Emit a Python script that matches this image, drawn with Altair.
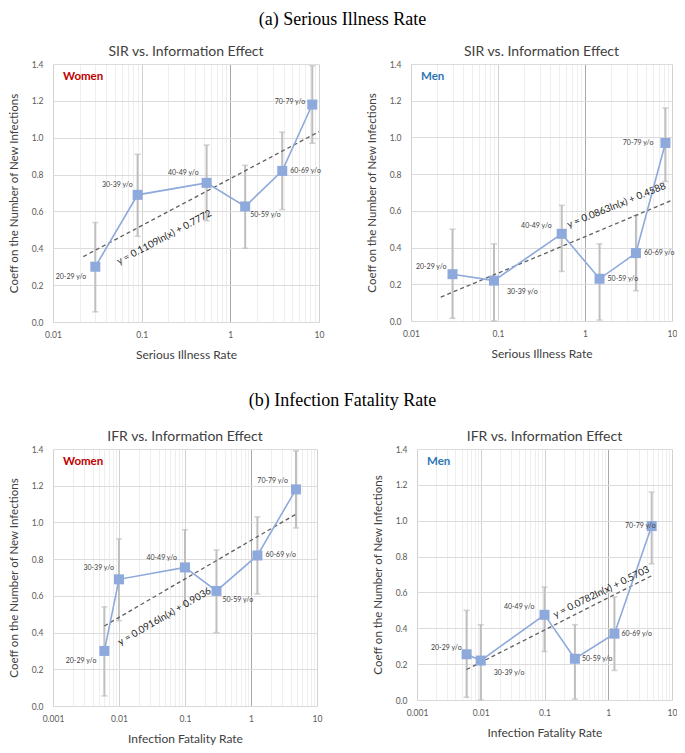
import altair as alt
import pandas as pd

# ---------------- data ----------------
ages = ["20-29 y/o", "30-39 y/o", "40-49 y/o", "50-59 y/o", "60-69 y/o", "70-79 y/o"]
sir_rate = [0.030, 0.090, 0.54, 1.47, 3.85, 8.4]
ifr_rate = [0.006, 0.010, 0.10, 0.30, 1.25, 4.8]

women_coef = [0.30, 0.69, 0.755, 0.627, 0.82, 1.18]
women_lo = [0.055, 0.465, 0.55, 0.40, 0.61, 0.97]
women_hi = [0.54, 0.91, 0.96, 0.85, 1.03, 1.39]

men_coef = [0.255, 0.22, 0.475, 0.23, 0.37, 0.97]
men_lo = [0.015, 0.0, 0.27, 0.005, 0.165, 0.76]
men_hi = [0.50, 0.42, 0.63, 0.42, 0.575, 1.16]

# trendline end points
sir_w_trend_x = [0.022, 10]
sir_w_trend_y = [0.355, 1.033]
sir_m_trend_x = [0.022, 10]
sir_m_trend_y = [0.13, 0.658]
ifr_w_trend_x = [0.006, 4.8]
ifr_w_trend_y = [0.436, 1.045]
ifr_m_trend_x = [0.006, 4.8]
ifr_m_trend_y = [0.170, 0.693]

eq_texts = ["y = 0.1109ln(x) + 0.7772", "y = 0.0863ln(x) + 0.4588",
            "y = 0.0916ln(x) + 0.9036", "y = 0.0782ln(x) + 0.5703"]
# annotation anchors (data units)
eq_x = [0.18, 2.3, 0.049, 0.78]
eq_y = [0.459, 0.63, 0.488, 0.602]

y_ticks = [0.0, 0.2, 0.4, 0.6, 0.8, 1.0, 1.2, 1.4]

# ---------------- styles ----------------
FONT = "Lato"
SERIES = "#8EA9DB"
ERR = "#BFBFBF"
TXT = "#404040"

label_offsets = {
    "sir_w": [("right", -9, 10), ("right", -5, -10), ("right", -8, -10), ("left", 5, 9), ("left", 8, 0), ("right", -7, -3)],
    "sir_m": [("right", -6, -7), ("left", 13, 11), ("right", -10, -8), ("left", 8, 0), ("left", 8, 0), ("right", -12, 0)],
    "ifr_w": [("right", -8, 10), ("right", -5, -11), ("right", -8, -9), ("left", 6, 9), ("left", 8, 0), ("right", -8, -8)],
    "ifr_m": [("right", -5, -6), ("left", 13, 12), ("right", -10, -8), ("left", 7, 0), ("left", 7, 0), ("right", 4, 0)],
}


def log_ticks(lo_exp, hi_exp):
    vals = []
    for e in range(lo_exp, hi_exp):
        for m in range(1, 10):
            vals.append(round(m * 10.0 ** e, 8))
    vals.append(round(10.0 ** hi_exp, 8))
    return vals


DECADE = "abs(log(datum.value)/LN10 - round(log(datum.value)/LN10)) < 0.001"


def panel(key, rates, coef, lo, hi, tx, ty, eq_i, eq_angle, sex, sex_color,
          exps, title, x_title, width, height):
    df = pd.DataFrame({"age": ages, "rate": rates, "coef": coef, "lo": lo, "hi": hi})
    tdf = pd.DataFrame({"rate": tx, "coef": ty})
    edf = pd.DataFrame({"rate": [eq_x[eq_i]], "coef": [eq_y[eq_i]], "t": [eq_texts[eq_i]]})
    sdf = pd.DataFrame({"t": [sex]})

    xs = alt.Scale(type="log", domain=[10.0 ** exps[0], 10.0 ** exps[1]], nice=False)
    ys = alt.Scale(domain=[0, 1.4], nice=False, zero=False)
    xaxis = alt.Axis(
        values=log_ticks(exps[0], exps[1]),
        labelExpr=DECADE + " ? format(datum.value, '~g') : ''",
        grid=True,
        gridColor={"condition": [{"test": "datum.value == 1", "value": "#A9A9A9"},
                                 {"test": DECADE, "value": "#D2D2D2"}],
                   "value": "#EEEEEE"},
        ticks=False, domain=True, domainColor="#D9D9D9",
        labelColor="#595959", labelFontSize=8.5, labelFont=FONT, labelPadding=8,
        labelOverlap=False, labelFlush=False,
        title=x_title, titleFont=FONT, titleFontSize=12, titleFontWeight="normal",
        titleColor=TXT, titlePadding=11,
    )
    yaxis = alt.Axis(
        values=y_ticks, format=".1f", grid=True, gridColor="#DCDCDC",
        ticks=False, domain=False,
        labelColor="#595959", labelFontSize=8.5, labelFont=FONT, labelPadding=10,
        title="Coeff on the Number of New Infections", titleFont=FONT,
        titleFontSize=11.5, titleFontWeight="normal", titleColor=TXT, titlePadding=12,
    )
    X = alt.X("rate:Q", scale=xs, axis=xaxis)

    err = alt.Chart(df).mark_rule(color=ERR, strokeWidth=2).encode(
        x=X, y=alt.Y("lo:Q", scale=ys, axis=yaxis), y2="hi:Q")
    cap_lo = alt.Chart(df).mark_tick(color=ERR, orient="horizontal", size=6, thickness=1.5).encode(
        x=X, y=alt.Y("lo:Q", scale=ys, axis=yaxis))
    cap_hi = alt.Chart(df).mark_tick(color=ERR, orient="horizontal", size=6, thickness=1.5).encode(
        x=X, y=alt.Y("hi:Q", scale=ys, axis=yaxis))
    Y = alt.Y("coef:Q", scale=ys, axis=yaxis)
    trend = alt.Chart(tdf).mark_line(color="#5F5F5F", strokeDash=[4, 3], strokeWidth=1.3).encode(x=X, y=Y)
    line = alt.Chart(df).mark_line(color=SERIES, strokeWidth=1.6).encode(x=X, y=Y, order="rate:Q")
    pts = alt.Chart(df).mark_point(shape="square", filled=True, size=100, opacity=1, color=SERIES).encode(x=X, y=Y)

    labels = []
    for age, (al, dx, dy) in zip(ages, label_offsets[key]):
        labels.append(
            alt.Chart(df).transform_filter(alt.datum.age == age).mark_text(
                align=al, baseline="middle", dx=dx, dy=dy, fontSize=7, font=FONT, color=TXT
            ).encode(x=X, y=Y, text="age:N")
        )
    eq = alt.Chart(edf).mark_text(angle=eq_angle, fontSize=9.8, font=FONT, color="#262626",
                                  baseline="middle", align="center").encode(x=X, y=Y, text="t:N")
    sx = alt.Chart(sdf).mark_text(align="left", baseline="middle", fontSize=11.5, fontWeight="bold",
                                  font=FONT, color=sex_color).encode(
        x=alt.value(10), y=alt.value(13), text="t:N")

    return alt.layer(err, cap_lo, cap_hi, trend, line, pts, *labels, eq, sx).properties(
        width=width, height=height,
        title=alt.TitleParams(title, font=FONT, fontSize=14, fontWeight="normal", color=TXT, offset=1),
    )


p1 = panel("sir_w", sir_rate, women_coef, women_lo, women_hi, sir_w_trend_x, sir_w_trend_y, 0, 332,
           "Women", "#C00000", (-2, 1), "SIR vs. Information Effect", "Serious Illness Rate", 266, 258)
p2 = panel("sir_m", sir_rate, men_coef, men_lo, men_hi, sir_m_trend_x, sir_m_trend_y, 1, 338,
           "Men", "#2E75B6", (-2, 1), "SIR vs. Information Effect", "Serious Illness Rate", 261, 257)
p3 = panel("ifr_w", ifr_rate, women_coef, women_lo, women_hi, ifr_w_trend_x, ifr_w_trend_y, 2, 330,
           "Women", "#C00000", (-3, 1), "IFR vs. Information Effect", "Infection Fatality Rate", 264, 257)
p4 = panel("ifr_m", ifr_rate, men_coef, men_lo, men_hi, ifr_m_trend_x, ifr_m_trend_y, 3, 334,
           "Men", "#2E75B6", (-3, 1), "IFR vs. Information Effect", "Infection Fatality Rate", 255, 251)

SEC = dict(font="Liberation Serif", fontSize=18, fontWeight="normal", color="black", anchor="middle")
row_a = alt.hconcat(p1, p2, spacing=42,
                    title=alt.TitleParams("(a) Serious Illness Rate", offset=16, **SEC))
row_b = alt.hconcat(p3, p4, spacing=50,
                    title=alt.TitleParams("(b) Infection Fatality Rate", offset=20, **SEC))

chart = alt.vconcat(row_a, row_b, spacing=31).properties(
    padding={"top": 3, "left": 0, "right": 0, "bottom": 0}
).configure_view(strokeWidth=0)

chart.save("out.html", embed_options={"renderer": "svg", "actions": False})
